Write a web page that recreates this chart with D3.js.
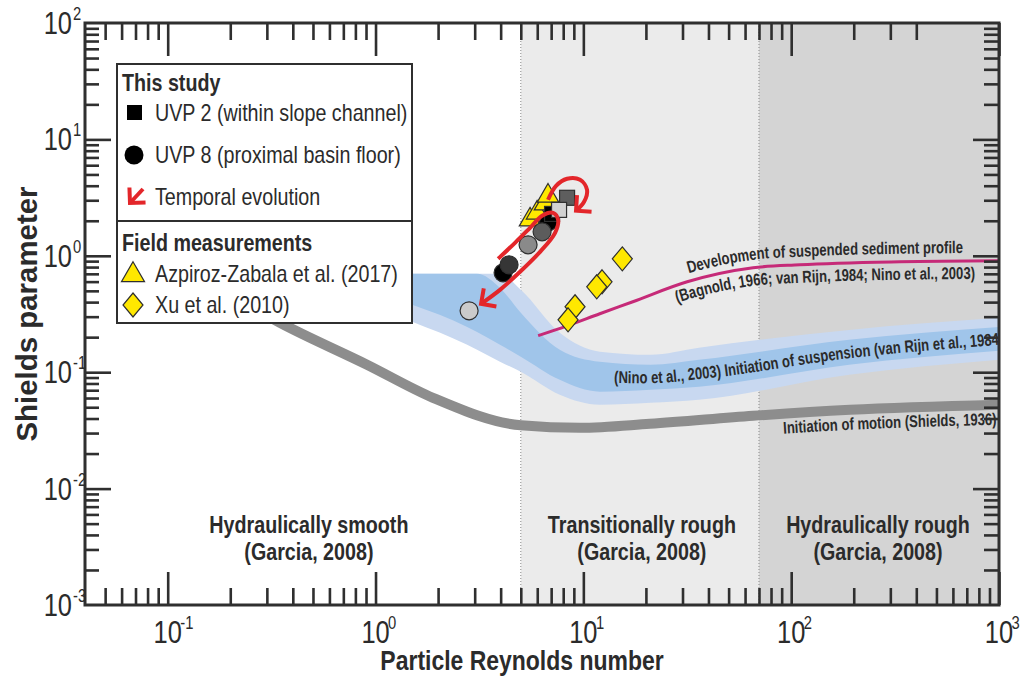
<!DOCTYPE html>
<html>
<head>
<meta charset="utf-8">
<script src="https://cdn.jsdelivr.net/npm/d3@7"></script>
<style>
    body{margin:0;background:#fff;}
    svg text{font-family:"Liberation Sans",Arial,sans-serif;fill:#2b2b2b;}
</style>
</head>
<body>
<svg id="chart" width="1029" height="680"></svg>
<script>
//flow regimes (Garcia, 2008)
const regimeEdges = [0.04, 5, 70, 1000];
const regimeNames = ["Hydraulically smooth", "Transitionally rough", "Hydraulically rough"];
const regimeRefs = ["(Garcia, 2008)", "(Garcia, 2008)", "(Garcia, 2008)"];

//initiation of motion (Shields, 1936)
const shieldsRe  = [0.2, 0.347, 0.91, 1.89, 5.0, 9.64, 20.9, 65.6, 192, 1000];
const shieldsTau = [0.46, 0.266, 0.116, 0.0603, 0.035, 0.0333, 0.036, 0.0422, 0.0475, 0.0525];

//initiation of suspension band (outer and inner envelope)
const suspRe       = [0.6, 1.5, 2.76, 3.08, 3.97, 5.0, 7.7, 12, 21, 36, 190, 1000];
const suspOuterTop = [0.7, 0.7, 0.7, 0.7, 0.7, 0.51, 0.218, 0.15, 0.141, 0.162, 0.231, 0.293];
const suspInnerTop = [0.7, 0.7, 0.7, 0.7, 0.53, 0.324, 0.156, 0.123, 0.116, 0.128, 0.19, 0.245];
const suspInnerBot = [0.598, 0.379, 0.245, 0.222, 0.172, 0.136, 0.086, 0.068, 0.0706, 0.075, 0.116, 0.153];
const suspOuterBot = [0.491, 0.271, 0.172, 0.156, 0.123, 0.101, 0.064, 0.0525, 0.0546, 0.058, 0.095, 0.128];

//development of suspended sediment profile
const profileRe  = [6.06, 8.35, 12.0, 17.3, 31.6, 65.6, 110, 334, 1000];
const profileTau = [0.206, 0.25, 0.318, 0.403, 0.598, 0.789, 0.837, 0.888, 0.906];

//this study: UVP 8 (circles) and UVP 2 (squares)
const uvp8Re  = [6.8, 4.11, 4.39, 5.42, 6.33, 2.82];
const uvp8Tau = [1.96, 0.714, 0.837, 1.243, 1.607, 0.337];
const uvp2Re  = [7.07, 8.35, 7.64];
const uvp2Tau = [2.29, 3.15, 2.48];

//field measurements
const azpirozRe  = [5.54, 5.99, 6.54, 6.76];
const azpirozTau = [2.04, 2.34, 2.80, 3.27];
const xuRe  = [15.4, 12.3, 11.6, 9.12, 8.44];
const xuTau = [0.942, 0.598, 0.542, 0.365, 0.282];

//temporal evolution arrows
const loopSmallRe  = [6.76, 7.39, 8.35, 9.64, 10.42, 10.08, 9.22];
const loopSmallTau = [3.03, 3.99, 4.59, 4.50, 3.69, 2.91, 2.44];
const loopBigRe  = [3.89, 4.69, 5.54, 6.33, 7.15, 7.56, 7.31, 6.19, 4.96, 3.97, 3.22];
const loopBigTau = [0.942, 1.293, 1.74, 2.21, 2.34, 2.04, 1.577, 1.082, 0.729, 0.51, 0.387];

//axis tick labels
const xMajor = [0.1, 1, 10, 100, 1000];
const xMajorExp = ["-1", "0", "1", "2", "3"];
const yMajor = [0.001, 0.01, 0.1, 1, 10, 100];
const yMajorExp = ["-3", "-2", "-1", "0", "1", "2"];

//legend
const legendStudy = ["UVP 2 (within slope channel)", "UVP 8 (proximal basin floor)", "Temporal evolution"];
const legendField = ["Azpiroz-Zabala et al. (2017)", "Xu et al. (2010)"];

//styles
const REGIME_FILL = ["#ffffff", "#ebebeb", "#d4d4d4"];
const REGIME_LABEL_SHIFT = [6, 2, -1];
const UVP8_FILL = ["#000000", "#000000", "#363636", "#8a8a8a", "#5c5c5c", "#cbcbcb"];
const UVP2_FILL = ["#000000", "#5e5e5e", "#d2d2d2"];
const RED = "#e3262a";
const YELLOW = "#ffe800";
const INK = "#2f2f2f";
const NARROW = 0.82;

const svg = d3.select("#chart");
const plotL = 85, plotR = 999, plotT = 23, plotB = 605;

const x = d3.scaleLog().domain([0.04, 1000]).range([plotL, plotR]);
const y = d3.scaleLog().domain([0.001, 100]).range([plotB, plotT]);

//squeeze text horizontally to mimic the condensed face of the original
function narrow(sel, factor = NARROW){
    sel.each(function(){
        let el = this.querySelector("textPath") || this;
        let w = el.getComputedTextLength();
        el.setAttribute("textLength", w * factor);
        el.setAttribute("lengthAdjust", "spacingAndGlyphs");
    });
    return sel;
}

const defs = svg.append("defs");
defs.append("clipPath").attr("id", "plotClip")
    .append("rect").attr("x", plotL).attr("y", plotT).attr("width", plotR - plotL).attr("height", plotB - plotT);
defs.append("marker")
    .attr("id", "arrowHead")
    .attr("viewBox", "-16 -14 20 28")
    .attr("markerWidth", 20).attr("markerHeight", 28)
    .attr("markerUnits", "userSpaceOnUse")
    .attr("orient", "auto")
    .append("path")
    .attr("d", "M-11,-11L0,0L-11,11")
    .attr("fill", "none")
    .attr("stroke", RED)
    .attr("stroke-width", 4)
    .attr("stroke-linejoin", "miter");

const plot = svg.append("g").attr("clip-path", "url(#plotClip)");

//regime shading
plot.selectAll(".regime").data(d3.range(3)).join("rect")
    .attr("x", i => x(regimeEdges[i]))
    .attr("width", i => x(regimeEdges[i + 1]) - x(regimeEdges[i]))
    .attr("y", plotT).attr("height", plotB - plotT)
    .attr("fill", i => REGIME_FILL[i]);
plot.selectAll(".edge").data(regimeEdges.slice(1, 3)).join("line")
    .attr("x1", d => x(d)).attr("x2", d => x(d))
    .attr("y1", plotT).attr("y2", plotB)
    .attr("stroke", "#8a8a8a").attr("stroke-width", 1).attr("stroke-dasharray", "1,2");

regimeNames.forEach((name, i) => {
    let cx = (x(regimeEdges[i]) + x(regimeEdges[i + 1])) / 2 + REGIME_LABEL_SHIFT[i];
    narrow(svg.append("text").attr("x", cx).attr("y", 533).attr("text-anchor", "middle")
        .attr("font-size", 24).attr("font-weight", "bold").text(name));
    narrow(svg.append("text").attr("x", cx).attr("y", 560).attr("text-anchor", "middle")
        .attr("font-size", 24).attr("font-weight", "bold").text(regimeRefs[i]));
});

//suspension band
const bandArea = d3.area().x(d => x(d[0])).y0(d => y(d[2])).y1(d => y(d[1])).curve(d3.curveMonotoneX);
plot.append("path").datum(d3.zip(suspRe, suspOuterTop, suspOuterBot))
    .attr("d", bandArea).attr("fill", "#c8d8f0");
plot.append("path").datum(d3.zip(suspRe, suspInnerTop, suspInnerBot))
    .attr("d", bandArea).attr("fill", "#a0c5ea");

//Shields curve
const curveLine = (dy) => d3.line().x(d => x(d[0])).y(d => y(d[1]) + dy).curve(d3.curveMonotoneX);
const shieldsData = d3.zip(shieldsRe, shieldsTau);
plot.append("path").datum(shieldsData).attr("d", curveLine(0))
    .attr("fill", "none").attr("stroke", "#8d8d8d").attr("stroke-width", 10);

//suspended profile line
const profileData = d3.zip(profileRe, profileTau);
plot.append("path").datum(profileData).attr("d", curveLine(0))
    .attr("fill", "none").attr("stroke", "#c62a78").attr("stroke-width", 3);

//curve labels along text paths
function lengthAtX(node, px){
    let total = node.getTotalLength();
    for(let s = 0; s <= total; s += 1){
        if(node.getPointAtLength(s).x >= px) return s;
    }
    return total;
}
function curveLabel(id, data, dy, label, anchorRe, anchor, clip){
    let p = defs.append("path").attr("id", id).attr("d", curveLine(dy)(data));
    let offset = lengthAtX(p.node(), x(anchorRe));
    let t = (clip ? plot : svg).append("text")
        .attr("font-size", 17).attr("font-weight", "bold").attr("text-anchor", anchor);
    t.append("textPath").attr("href", "#" + id).attr("startOffset", offset).text(label);
    narrow(t, 0.77);
}
curveLabel("profTop", profileData, -8, "Development of suspended sediment profile", 145, "middle", false);
curveLabel("profBot", profileData, 18, "(Bagnold, 1966; van Rijn, 1984; Nino et al., 2003)", 145, "middle", false);
const suspMid = suspRe.map((r, i) => [r, Math.sqrt(suspInnerTop[i] * suspInnerBot[i])]);
curveLabel("suspMid", suspMid, 6, "(Nino et al., 2003) Initiation of suspension (van Rijn et al., 1984)", 13.9, "start", true);
curveLabel("shieldsLab", shieldsData, 20, "Initiation of motion (Shields, 1936)", 91, "start", false);

//field measurements
const triangle = d3.symbol(d3.symbolTriangle, 200);
plot.selectAll(".azp").data(d3.zip(azpirozRe, azpirozTau)).join("path")
    .attr("d", triangle)
    .attr("transform", d => `translate(${x(d[0])},${y(d[1])})`)
    .attr("fill", YELLOW).attr("stroke", INK).attr("stroke-width", 1.2);
const diamondPath = "M0,-12L10,0L0,12L-10,0Z";
plot.selectAll(".xu").data(d3.zip(xuRe, xuTau)).join("path")
    .attr("d", diamondPath)
    .attr("transform", d => `translate(${x(d[0])},${y(d[1])})`)
    .attr("fill", YELLOW).attr("stroke", INK).attr("stroke-width", 1.2);

//this study
plot.selectAll(".uvp8").data(d3.range(uvp8Re.length)).join("circle")
    .attr("cx", i => x(uvp8Re[i])).attr("cy", i => y(uvp8Tau[i])).attr("r", 9)
    .attr("fill", i => UVP8_FILL[i]).attr("stroke", INK).attr("stroke-width", 1.2);
plot.selectAll(".uvp2").data(d3.range(uvp2Re.length)).join("rect")
    .attr("x", i => x(uvp2Re[i]) - 7.5).attr("y", i => y(uvp2Tau[i]) - 7.5)
    .attr("width", 15).attr("height", 15)
    .attr("fill", i => UVP2_FILL[i]).attr("stroke", INK).attr("stroke-width", 1.2);

//temporal evolution
const loopLine = d3.line().x(d => x(d[0])).y(d => y(d[1])).curve(d3.curveCatmullRom.alpha(0.5));
[[loopSmallRe, loopSmallTau], [loopBigRe, loopBigTau]].forEach(([re, tau]) => {
    plot.append("path").datum(d3.zip(re, tau)).attr("d", loopLine)
        .attr("fill", "none").attr("stroke", RED).attr("stroke-width", 4)
        .attr("marker-end", "url(#arrowHead)");
});

//axes
const xTicks = x.ticks().filter(d => d > 0.04);
const yTicks = y.ticks().filter(d => d > 0.001 && d < 100);
const isMajor = d => Math.abs(Math.log10(d) - Math.round(Math.log10(d))) < 1e-9;
const xMinor = xTicks.filter(d => !isMajor(d));
const xMajorTicks = xTicks.filter(isMajor);
const yMinor = yTicks.filter(d => !isMajor(d));
const yMajorTicks = yTicks.filter(isMajor);
//the top axis of the original has no ticks between 500 and 900
const xMinorTop = xMinor.filter(d => d <= 400);

function drawAxis(axis, transform){
    let g = svg.append("g").attr("transform", transform).attr("color", INK).call(axis);
    g.select(".domain").remove();
    g.selectAll("line").attr("stroke-width", 2.6);
}
drawAxis(d3.axisBottom(x).tickValues(xMinor).tickSize(-17).tickFormat(""), `translate(0,${plotB})`);
drawAxis(d3.axisBottom(x).tickValues(xMajorTicks).tickSize(-33).tickFormat(""), `translate(0,${plotB})`);
drawAxis(d3.axisTop(x).tickValues(xMinorTop).tickSize(-17).tickFormat(""), `translate(0,${plotT})`);
drawAxis(d3.axisTop(x).tickValues(xMajorTicks).tickSize(-33).tickFormat(""), `translate(0,${plotT})`);
drawAxis(d3.axisLeft(y).tickValues(yMinor).tickSize(-14).tickFormat(""), `translate(${plotL},0)`);
drawAxis(d3.axisLeft(y).tickValues(yMajorTicks).tickSize(-26).tickFormat(""), `translate(${plotL},0)`);
drawAxis(d3.axisRight(y).tickValues(yMinor).tickSize(-15).tickFormat(""), `translate(${plotR},0)`);
drawAxis(d3.axisRight(y).tickValues(yMajorTicks).tickSize(-26).tickFormat(""), `translate(${plotR},0)`);

svg.append("rect").attr("x", plotL).attr("y", plotT).attr("width", plotR - plotL).attr("height", plotB - plotT)
    .attr("fill", "none").attr("stroke", INK).attr("stroke-width", 3);

//tick labels
xMajor.forEach((v, i) => {
    let base = narrow(svg.append("text").attr("x", x(v)).attr("y", 643).attr("text-anchor", "middle")
        .attr("font-size", 31).text("10"));
    let half = base.node().getComputedTextLength() * NARROW / 2;
    narrow(svg.append("text").attr("x", x(v) + half + 1).attr("y", 629).attr("font-size", 18).text(xMajorExp[i]));
});
yMajor.forEach((v, i) => {
    narrow(svg.append("text").attr("x", 72).attr("y", y(v) + 11).attr("text-anchor", "end")
        .attr("font-size", 31).text("10"));
    narrow(svg.append("text").attr("x", 73).attr("y", y(v) - 3).attr("font-size", 18).text(yMajorExp[i]));
});

//axis titles
narrow(svg.append("text").attr("x", 522).attr("y", 670).attr("text-anchor", "middle")
    .attr("font-size", 28).attr("font-weight", "bold").text("Particle Reynolds number"));
svg.append("text").attr("transform", "translate(37,314) rotate(-90)").attr("text-anchor", "middle")
    .attr("font-size", 29).attr("font-weight", "bold")
    .attr("textLength", 255).attr("lengthAdjust", "spacingAndGlyphs").text("Shields parameter");

//legend
const lg = svg.append("g");
lg.append("rect").attr("x", 117).attr("y", 64).attr("width", 295).attr("height", 259)
    .attr("fill", "#fff").attr("stroke", INK).attr("stroke-width", 2);
lg.append("line").attr("x1", 117).attr("x2", 412).attr("y1", 221).attr("y2", 221)
    .attr("stroke", INK).attr("stroke-width", 2);
narrow(lg.append("text").attr("x", 122).attr("y", 91).attr("font-size", 24).attr("font-weight", "bold").text("This study"));
narrow(lg.append("text").attr("x", 122).attr("y", 251).attr("font-size", 24).attr("font-weight", "bold").text("Field measurements"));
const studyRows = [121, 163, 205];
legendStudy.forEach((label, i) => {
    narrow(lg.append("text").attr("x", 155).attr("y", studyRows[i]).attr("font-size", 24).text(label));
});
lg.append("rect").attr("x", 127).attr("y", 105).attr("width", 15).attr("height", 15).attr("fill", "#000");
lg.append("circle").attr("cx", 134).attr("cy", 155).attr("r", 9.5).attr("fill", "#000");
lg.append("line").attr("x1", 143).attr("y1", 189).attr("x2", 130).attr("y2", 203)
    .attr("stroke", RED).attr("stroke-width", 4).attr("marker-end", "url(#arrowHead)");
const fieldRows = [282, 313];
legendField.forEach((label, i) => {
    narrow(lg.append("text").attr("x", 155).attr("y", fieldRows[i]).attr("font-size", 24).text(label));
});
lg.append("path").attr("d", d3.symbol(d3.symbolTriangle, 230)).attr("transform", "translate(133,275)")
    .attr("fill", YELLOW).attr("stroke", INK).attr("stroke-width", 1.2);
lg.append("path").attr("d", diamondPath).attr("transform", "translate(133,305)")
    .attr("fill", YELLOW).attr("stroke", INK).attr("stroke-width", 1.2);
</script>
</body>
</html>
